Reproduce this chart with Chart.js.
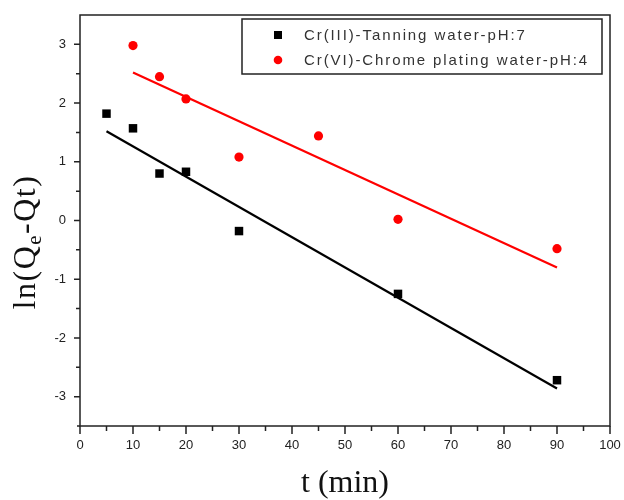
<!DOCTYPE html>
<html>
<head>
<meta charset="utf-8">
<script src="https://cdn.jsdelivr.net/npm/chart.js@4.4.0/dist/chart.umd.min.js"></script>
<style>
  html, body { margin: 0; padding: 0; background: #fff; }
  #wrap { width: 624px; height: 500px; }
</style>
</head>
<body>
<div id="wrap"><canvas id="myChart" width="624" height="500"></canvas></div>
<script>
// measured points
const cr3Time = [5, 10, 15, 20, 30, 60, 90];
const cr3Values = [1.82, 1.57, 0.80, 0.83, -0.18, -1.25, -2.72];
const cr6Time = [10, 15, 20, 30, 45, 60, 90];
const cr6Values = [2.98, 2.45, 2.07, 1.08, 1.44, 0.02, -0.48];
// fitted lines (end values)
const cr3FitTime = [5, 90];
const cr3FitValues = [1.52, -2.86];
const cr6FitTime = [10, 90];
const cr6FitValues = [2.52, -0.80];
// axes
const xTicks = [0, 10, 20, 30, 40, 50, 60, 70, 80, 90, 100];
const xMinorTicks = [5, 15, 25, 35, 45, 55, 65, 75, 85, 95];
const yTicks = [-3, -2, -1, 0, 1, 2, 3];
const yMinorTicks = [-2.5, -1.5, -0.5, 0.5, 1.5, 2.5];
const legendLabels = ['Cr(III)-Tanning water-pH:7', 'Cr(VI)-Chrome plating water-pH:4'];

function toPoints(xs, ys) {
  return xs.map((x, i) => ({ x: x, y: ys[i] }));
}

const frameAndLabels = {
  id: 'frameAndLabels',
  afterDraw(chart) {
    const ctx = chart.ctx;
    const a = chart.chartArea;
    const xs = chart.scales.x, ys = chart.scales.y;
    ctx.save();
    ctx.strokeStyle = '#222';
    ctx.lineWidth = 1.5;
    ctx.strokeRect(a.left, a.top, a.right - a.left, a.bottom - a.top);
    // tick marks, outside
    ctx.beginPath();
    xTicks.forEach(v => { const p = xs.getPixelForValue(v); ctx.moveTo(p, a.bottom); ctx.lineTo(p, a.bottom + 8); });
    xMinorTicks.forEach(v => { const p = xs.getPixelForValue(v); ctx.moveTo(p, a.bottom); ctx.lineTo(p, a.bottom + 5); });
    yTicks.forEach(v => { const p = ys.getPixelForValue(v); ctx.moveTo(a.left, p); ctx.lineTo(a.left - 6, p); });
    yMinorTicks.forEach(v => { const p = ys.getPixelForValue(v); ctx.moveTo(a.left, p); ctx.lineTo(a.left - 4, p); });
    ctx.moveTo(a.left - 3, a.bottom); ctx.lineTo(a.left, a.bottom);
    ctx.stroke();

    // tick labels
    ctx.fillStyle = '#222';
    ctx.font = '13px "Liberation Sans", Arial, sans-serif';
    ctx.textBaseline = 'middle';
    ctx.textAlign = 'center';
    xTicks.forEach(v => ctx.fillText(String(v), xs.getPixelForValue(v), a.bottom + 19));
    ctx.textAlign = 'right';
    yTicks.forEach(v => ctx.fillText(String(v), a.left - 14, ys.getPixelForValue(v)));

    // legend box
    const lx = a.left + 162, ly = a.top + 4, lw = 360, lh = 55;
    ctx.lineWidth = 1.5;
    ctx.strokeRect(lx, ly, lw, lh);
    ctx.font = '15px "Liberation Sans", Arial, sans-serif';
    ctx.letterSpacing = '1.9px';
    ctx.textBaseline = 'middle';
    ctx.textAlign = 'left';
    const colors = ['#000', '#ff0000'];
    legendLabels.forEach((t, i) => {
      const cy = ly + 16 + i * 25;
      ctx.fillStyle = colors[i];
      if (i === 0) {
        ctx.fillRect(lx + 32, cy - 4, 8, 8);
      } else {
        ctx.beginPath(); ctx.arc(lx + 36, cy, 4.3, 0, Math.PI * 2); ctx.fill();
      }
      ctx.fillStyle = '#333';
      ctx.fillText(t, lx + 62, cy + 1);
    });
    ctx.letterSpacing = '0px';

    // axis titles
    ctx.fillStyle = '#111';
    ctx.font = '32px "Liberation Serif", "Times New Roman", serif';
    ctx.textAlign = 'center';
    ctx.textBaseline = 'alphabetic';
    ctx.fillText('t (min)', (a.left + a.right) / 2, 492);

    // y title with subscript e
    ctx.save();
    ctx.translate(35, 242);
    ctx.rotate(-Math.PI / 2);
    ctx.letterSpacing = '1.5px';
    const big = '32px "Liberation Serif", "Times New Roman", serif';
    const small = '21px "Liberation Serif", "Times New Roman", serif';
    const parts = [['ln(Q', big, 0], ['e', small, 6], ['-Qt)', big, 0]];
    let total = 0;
    parts.forEach(p => { ctx.font = p[1]; total += ctx.measureText(p[0]).width; });
    let x = -total / 2;
    ctx.textAlign = 'left';
    parts.forEach(p => { ctx.font = p[1]; ctx.fillText(p[0], x, p[2]); x += ctx.measureText(p[0]).width; });
    ctx.restore();
    ctx.restore();
  }
};

const config = {
  type: 'scatter',
  data: {
    datasets: [
      {
        label: legendLabels[0],
        data: toPoints(cr3Time, cr3Values),
        backgroundColor: '#000',
        borderColor: '#000',
        pointStyle: 'rect',
        pointRadius: 6,
        borderWidth: 0
      },
      {
        label: legendLabels[1],
        data: toPoints(cr6Time, cr6Values),
        backgroundColor: '#ff0000',
        borderColor: '#ff0000',
        pointStyle: 'circle',
        pointRadius: 4.6,
        borderWidth: 0
      },
      {
        label: 'fit3',
        data: toPoints(cr3FitTime, cr3FitValues),
        showLine: true,
        borderColor: '#000',
        borderWidth: 2.2,
        pointRadius: 0
      },
      {
        label: 'fit6',
        data: toPoints(cr6FitTime, cr6FitValues),
        showLine: true,
        borderColor: '#ff0000',
        borderWidth: 2.2,
        pointRadius: 0
      }
    ]
  },
  options: {
    responsive: false,
    animation: false,
    layout: { padding: { top: 15, right: 14, left: 0, bottom: 0 } },
    plugins: {
      legend: { display: false },
      tooltip: { enabled: false }
    },
    scales: {
      x: {
        type: 'linear',
        min: 0,
        max: 100,
        grid: { display: false, drawTicks: false },
        border: { display: false },
        afterBuildTicks: s => { s.ticks = xTicks.map(v => ({ value: v })); },
        afterFit: s => { s.height = 74; },
        ticks: { display: false }
      },
      y: {
        type: 'linear',
        min: -3.5,
        max: 3.5,
        grid: { display: false, drawTicks: false },
        border: { display: false },
        afterBuildTicks: s => { s.ticks = yTicks.map(v => ({ value: v })); },
        afterFit: s => { s.width = 80; },
        ticks: { display: false }
      }
    }
  },
  plugins: [frameAndLabels]
};

new Chart(document.getElementById('myChart').getContext('2d'), config);
</script>
</body>
</html>
